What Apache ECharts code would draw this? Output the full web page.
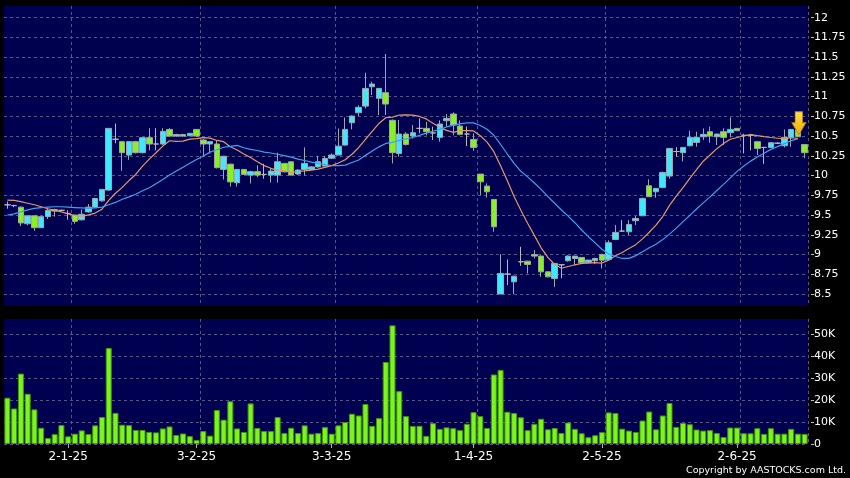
<!DOCTYPE html>
<html>
<head>
<meta charset="utf-8">
<script src="https://cdn.jsdelivr.net/npm/echarts@6/dist/echarts.min.js"></script>
<style>
html,body{margin:0;padding:0;background:#000;}
#c{width:850px;height:478px;}
</style>
</head>
<body>
<div id="c"></div>
<script>
const dates = [
'2024-12-17','2024-12-18','2024-12-19','2024-12-20','2024-12-23','2024-12-24','2024-12-27','2024-12-30','2024-12-31',
'2025-01-02','2025-01-03','2025-01-06','2025-01-07','2025-01-08','2025-01-09','2025-01-10','2025-01-13','2025-01-14','2025-01-15','2025-01-16','2025-01-17','2025-01-20','2025-01-21','2025-01-22','2025-01-23','2025-01-24','2025-01-27','2025-01-28',
'2025-02-03','2025-02-04','2025-02-05','2025-02-06','2025-02-07','2025-02-10','2025-02-11','2025-02-12','2025-02-13','2025-02-14','2025-02-17','2025-02-18','2025-02-19','2025-02-20','2025-02-21','2025-02-24','2025-02-25','2025-02-26','2025-02-27','2025-02-28',
'2025-03-03','2025-03-04','2025-03-05','2025-03-06','2025-03-07','2025-03-10','2025-03-11','2025-03-12','2025-03-13','2025-03-14','2025-03-17','2025-03-18','2025-03-19','2025-03-20','2025-03-21','2025-03-24','2025-03-25','2025-03-26','2025-03-27','2025-03-28','2025-03-31',
'2025-04-01','2025-04-02','2025-04-03','2025-04-07','2025-04-08','2025-04-09','2025-04-10','2025-04-11','2025-04-14','2025-04-15','2025-04-16','2025-04-17','2025-04-22','2025-04-23','2025-04-24','2025-04-25','2025-04-28','2025-04-29','2025-04-30',
'2025-05-02','2025-05-06','2025-05-07','2025-05-08','2025-05-09','2025-05-12','2025-05-13','2025-05-14','2025-05-15','2025-05-16','2025-05-19','2025-05-20','2025-05-21','2025-05-22','2025-05-23','2025-05-26','2025-05-27','2025-05-28','2025-05-29','2025-05-30',
'2025-06-02','2025-06-03','2025-06-04','2025-06-05','2025-06-06','2025-06-09','2025-06-10','2025-06-11','2025-06-12','2025-06-13','2025-06-16'
];

const opens = [
9.63,9.62,9.60,9.39,9.49,9.34,9.48,9.57,9.56,9.52,
9.50,9.44,9.54,9.60,9.68,9.816,10.46,10.43,10.26,10.43,
10.29,10.48,10.40,10.40,10.585,10.50,10.52,10.505,10.585,10.45,
10.40,10.40,10.078,10.145,9.909,10.078,10.006,10.05,10.015,10.006,
10.006,10.154,10.175,10.02,10.078,10.078,10.11,10.12,10.22,10.26,
10.386,10.669,10.796,10.88,11.125,10.978,11.05,10.70,10.28,10.526,
10.501,10.598,10.598,10.54,10.484,10.695,10.78,10.627,10.526,10.458,
10.019,9.867,9.698,8.50,8.752,8.654,8.908,8.916,9.00,8.98,
8.781,8.697,8.87,8.921,8.95,8.963,8.90,8.921,9.001,8.938,
9.191,9.297,9.288,9.428,9.491,9.871,9.795,9.85,9.994,10.305,
10.29,10.378,10.42,10.492,10.556,10.492,10.556,10.543,10.598,10.51,
10.51,10.429,10.357,10.357,10.41,10.378,10.484,10.577,10.393
];
const closes = [
9.63,9.62,9.40,9.49,9.34,9.48,9.56,9.55,9.56,9.52,
9.42,9.51,9.60,9.71,9.825,10.598,10.46,10.29,10.43,10.29,
10.48,10.40,10.40,10.56,10.50,10.52,10.50,10.535,10.50,10.40,
10.43,10.10,10.245,9.92,10.078,10.015,10.05,10.006,10.015,10.057,
10.175,10.048,10.006,10.07,10.154,10.11,10.175,10.217,10.26,10.373,
10.585,10.754,10.864,11.104,11.16,11.104,10.906,10.29,10.526,10.395,
10.543,10.598,10.556,10.54,10.653,10.725,10.64,10.522,10.526,10.357,
9.922,9.795,9.352,8.76,8.752,8.726,8.908,8.874,8.98,8.781,
8.718,8.887,8.87,8.98,8.98,8.896,8.93,8.95,8.929,9.149,
9.28,9.297,9.381,9.457,9.711,9.732,9.838,10.04,10.344,10.305,
10.357,10.484,10.484,10.522,10.501,10.526,10.484,10.585,10.568,10.51,
10.51,10.344,10.357,10.416,10.41,10.484,10.585,10.492,10.29
];
const lows = [
9.58,9.60,9.36,9.37,9.30,9.34,9.45,9.48,9.55,9.44,
9.39,9.43,9.53,9.59,9.67,9.81,10.41,10.06,10.20,10.28,
10.28,10.32,10.32,10.39,10.49,10.49,10.49,10.50,10.49,10.24,
10.28,10.09,9.95,9.86,9.86,10.01,9.90,9.98,9.96,9.91,
9.91,10.04,10.0,10.006,10.0,10.07,10.10,10.12,10.21,10.26,
10.38,10.585,10.754,10.85,11.02,10.766,10.766,10.154,10.239,10.38,
10.47,10.535,10.51,10.45,10.43,10.62,10.51,10.51,10.374,10.315,
9.753,9.72,9.288,8.50,8.612,8.50,8.857,8.76,8.95,8.718,
8.71,8.591,8.70,8.91,8.866,8.879,8.90,8.879,8.824,8.93,
9.183,9.288,9.246,9.373,9.49,9.73,9.719,9.84,9.96,10.24,
10.18,10.37,10.365,10.45,10.416,10.387,10.387,10.484,10.565,10.28,
10.32,10.26,10.15,10.35,10.40,10.357,10.365,10.49,10.22
];
const highs = [
9.67,9.63,9.61,9.49,9.49,9.48,9.58,9.58,9.57,9.56,
9.50,9.57,9.64,9.72,9.83,10.60,10.66,10.43,10.43,10.44,
10.48,10.60,10.60,10.60,10.60,10.53,10.53,10.54,10.59,10.46,
10.43,10.44,10.25,10.15,10.08,10.08,10.06,10.13,10.15,10.10,
10.29,10.16,10.18,10.08,10.357,10.12,10.25,10.25,10.28,10.597,
10.737,10.76,10.89,11.303,11.19,11.11,11.54,10.71,10.704,10.55,
10.64,10.725,10.68,10.62,10.70,10.78,10.80,10.70,10.62,10.535,
10.02,9.90,9.70,9.005,8.938,8.73,9.098,8.92,9.056,8.99,
8.79,8.89,8.88,8.99,8.98,8.965,8.93,8.96,9.01,9.18,
9.373,9.436,9.436,9.487,9.72,9.952,9.84,10.05,10.35,10.36,
10.36,10.568,10.556,10.598,10.62,10.53,10.598,10.737,10.60,10.53,
10.53,10.43,10.36,10.42,10.42,10.585,10.59,10.58,10.40
];
const volumes = [
21100,16200,32100,22900,15800,7400,2700,4500,8600,3500,
4700,6200,4500,8500,12300,43800,14200,8800,8600,6400,
6400,5500,5300,7100,8000,4100,4800,3600,1800,5900,
3800,15500,11100,19500,7100,5500,18500,7300,5900,5900,
12300,5000,7400,5000,8500,4700,5000,7700,4700,8500,
10000,13800,13000,18200,8300,11800,37400,54100,24100,12700,
8200,8300,3700,9500,6900,7600,7200,6300,9200,14500,
12700,7300,31700,33800,14700,14100,12200,6300,9200,11500,
6700,7300,5000,9800,6900,4900,3100,4000,5400,14400,
14100,7000,6100,5500,10700,14800,6700,13000,18700,7800,
9600,9000,6600,6100,6300,5000,3200,7500,7500,4900,
4900,7200,4600,7200,4700,4700,6900,4700,4600
];
const ma10 = [
9.69,9.685,9.67,9.65,9.63,9.605,9.58,9.56,9.54,9.515,
9.494,9.483,9.503,9.525,9.574,9.686,9.776,9.85,9.937,10.014,
10.12,10.209,10.289,10.374,10.441,10.433,10.437,10.462,10.469,10.48,
10.475,10.445,10.429,10.365,10.323,10.273,10.228,10.175,10.126,10.092,
10.066,10.061,10.037,10.052,10.06,10.069,10.082,10.103,10.127,10.159,
10.2,10.27,10.356,10.46,10.56,10.66,10.733,10.74,10.767,10.769,
10.765,10.749,10.718,10.662,10.611,10.573,10.547,10.57,10.57,10.566,
10.504,10.424,10.303,10.125,9.935,9.735,9.562,9.397,9.243,9.085,
8.965,8.874,8.826,8.848,8.87,8.887,8.89,8.897,8.892,8.929,
8.985,9.026,9.077,9.125,9.198,9.282,9.372,9.481,9.623,9.739,
9.847,9.965,10.076,10.182,10.261,10.341,10.405,10.46,10.482,10.503,
10.519,10.505,10.493,10.482,10.473,10.469,10.479,10.47,null
];
const ma20 = [
9.50,9.515,9.54,9.565,9.585,9.595,9.60,9.605,9.605,9.60,
9.595,9.59,9.585,9.59,9.60,9.63,9.66,9.70,9.73,9.764,
9.807,9.846,9.896,9.949,10.007,10.059,10.106,10.156,10.203,10.247,
10.297,10.327,10.359,10.369,10.382,10.353,10.332,10.318,10.297,10.286,
10.27,10.253,10.233,10.209,10.191,10.171,10.155,10.139,10.127,10.125,
10.133,10.166,10.197,10.256,10.31,10.364,10.407,10.421,10.447,10.464,
10.482,10.51,10.537,10.561,10.586,10.616,10.64,10.655,10.668,10.667,
10.634,10.586,10.511,10.394,10.273,10.154,10.054,9.984,9.906,9.826,
9.734,9.649,9.564,9.486,9.403,9.311,9.226,9.147,9.067,9.007,
8.975,8.95,8.951,8.986,9.034,9.085,9.131,9.189,9.258,9.334,
9.416,9.496,9.576,9.654,9.73,9.811,9.889,9.971,10.053,10.121,
10.183,10.235,10.284,10.332,10.367,10.405,10.442,10.465,null
];
const priceTicks = [8.5,8.75,9,9.25,9.5,9.75,10,10.25,10.5,10.75,11,11.25,11.5,11.75,12];
const volumeTicks = [0,10000,20000,30000,40000,50000];
const arrowMark = { date: '2025-06-13', price: 10.662 };
const copyrightText = 'Copyright by AASTOCKS.com Ltd.';

const monthStart = dates.map((d, i) => i > 0 && d.slice(0, 7) !== dates[i - 1].slice(0, 7));
function fmtDate(d) {
  const p = d.split('-');
  return (+p[2]) + '-' + (+p[1]) + '-' + p[0].slice(2);
}
const candleData = dates.map((d, i) => {
  const item = { value: [opens[i], closes[i], lows[i], highs[i]] };
  if (opens[i] === closes[i]) item.itemStyle = { color: '#b8b8b8', borderColor: '#b8b8b8' };
  return item;
});

const gridLine = { show: true, lineStyle: { color: '#55558a', type: [3, 3], width: 1 } };
const font = 'DejaVu Sans';

const chart = echarts.init(document.getElementById('c'), null, { renderer: 'canvas', width: 850, height: 478 });
chart.setOption({
  animation: false,
  backgroundColor: '#000000',
  grid: [
    { left: 4, top: 6, width: 804, height: 300, show: true, backgroundColor: '#000050', borderWidth: 0 },
    { left: 4, top: 319, width: 804, height: 125, show: true, backgroundColor: '#000050', borderWidth: 0 }
  ],
  xAxis: [
    {
      type: 'category', gridIndex: 0, data: dates, boundaryGap: true,
      axisLine: { show: false }, axisTick: { show: false }, axisLabel: { show: false },
      splitLine: Object.assign({ interval: (i) => i > 0 && monthStart[i - 1] }, gridLine)
    },
    {
      type: 'category', gridIndex: 1, data: dates, boundaryGap: true,
      axisLine: { show: false },
      axisTick: { show: true, alignWithLabel: true, interval: (i) => monthStart[i], length: 4, lineStyle: { color: '#b0b0b0' } },
      axisLabel: { show: true, interval: (i) => monthStart[i], formatter: fmtDate, color: '#ffffff', fontSize: 12, fontFamily: font, margin: 7 },
      splitLine: Object.assign({ interval: (i) => i > 0 && monthStart[i - 1] }, gridLine)
    }
  ],
  yAxis: [
    {
      type: 'value', gridIndex: 0, position: 'right', min: 8.348, max: 12.148, offset: 3,
      axisLine: { show: false },
      axisTick: { show: true, customValues: priceTicks, length: 3, lineStyle: { color: '#c0c0c0' } },
      axisLabel: { customValues: priceTicks, color: '#ffffff', fontSize: 11, fontFamily: font, margin: 3 },
      splitLine: gridLine
    },
    {
      type: 'value', gridIndex: 1, position: 'right', min: 0, max: 57000, offset: 3,
      axisLine: { show: false },
      axisTick: { show: true, customValues: volumeTicks, length: 3, lineStyle: { color: '#c0c0c0' } },
      axisLabel: { customValues: volumeTicks, color: '#ffffff', fontSize: 11, fontFamily: font, margin: 3,
        formatter: (v) => v === 0 ? '0' : (v / 1000) + 'K' },
      splitLine: gridLine
    }
  ],
  series: [
    {
      type: 'candlestick', xAxisIndex: 0, yAxisIndex: 0, data: candleData, barWidth: 6,
      itemStyle: { color: '#40e8f8', color0: '#88f024', borderColor: '#9aa8b4', borderColor0: '#9aa8a0', borderWidth: 1 },
      markPoint: {
        silent: true,
        data: [{ coord: [arrowMark.date, arrowMark.price] }],
        symbol: 'path://M3,0 L10,0 L10,11 L13,11 L6.5,23 L0,11 L3,11 Z',
        symbolSize: [14, 23],
        symbolOffset: [1, 0],
        label: { show: false },
        itemStyle: {
          color: new echarts.graphic.LinearGradient(0, 0, 0, 1, [
            { offset: 0, color: '#ffe24a' }, { offset: 1, color: '#f0a800' }
          ]),
          borderColor: '#b88400', borderWidth: 0.8
        }
      }
    },
    {
      type: 'line', xAxisIndex: 0, yAxisIndex: 0, data: ma10, symbol: 'none',
      lineStyle: { color: '#e8956a', width: 1.2 }, itemStyle: { color: '#e8956a' }
    },
    {
      type: 'line', xAxisIndex: 0, yAxisIndex: 0, data: ma20, symbol: 'none',
      lineStyle: { color: '#3ca2ec', width: 1.2 }, itemStyle: { color: '#3ca2ec' }
    },
    {
      type: 'bar', xAxisIndex: 1, yAxisIndex: 1, data: volumes, barWidth: 6,
      itemStyle: { color: '#7cf41e', borderColor: '#45960c', borderWidth: 1 }
    }
  ],
  graphic: [
    { type: 'text', right: 4, bottom: 2, style: { text: copyrightText, fill: '#ffffff', font: '9.5px "DejaVu Sans"' } }
  ]
});
</script>
</body>
</html>
